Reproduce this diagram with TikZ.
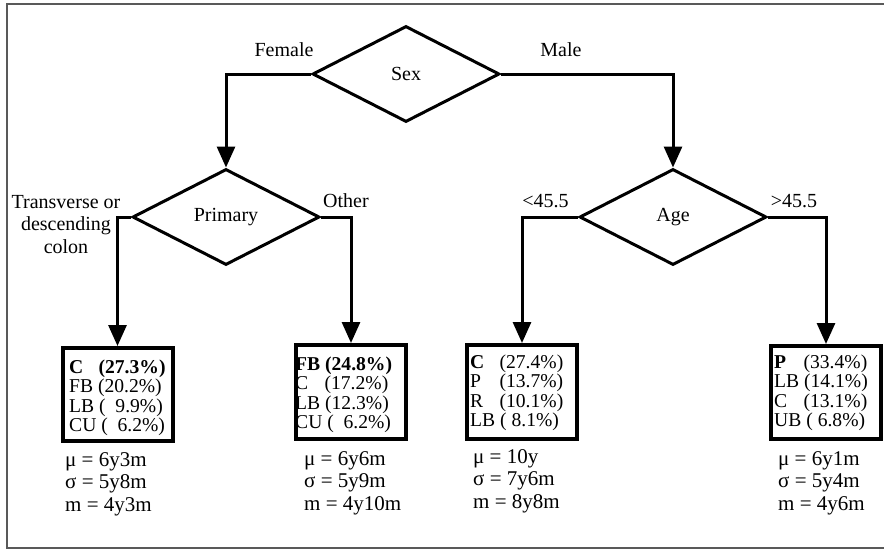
\documentclass[tikz,border=0pt]{standalone}
\usepackage{fontspec}
\setmainfont{Liberation Serif}
\usetikzlibrary{shapes.geometric,arrows.meta}
% fixed-width first column for single-letter class rows
\newcommand\tagcol[1]{\makebox[1.5em][l]{#1}}
\begin{document}
\begin{tikzpicture}[x=1pt,y=-1pt,
  decision/.style={diamond, draw, line width=3pt, minimum width=187pt,
    minimum height=96pt, inner sep=0pt, font=\fontsize{20}{22}\selectfont},
  leaf/.style={rectangle, draw, line width=4pt, inner sep=0pt,
    minimum width=110pt, minimum height=94pt},
  link/.style={line width=3pt, -{Triangle[length=21pt,width=18pt]}},
  lbl/.style={inner sep=0pt, anchor=base, font=\fontsize{20}{22.5}\selectfont},
  dist/.style={inner sep=0pt, anchor=base west, font=\fontsize{19.6}{19.6}\selectfont},
  stats/.style={inner sep=0pt, anchor=base west, font=\fontsize{21}{22.5}\selectfont},
  frame/.style={line width=1.5pt, draw=black!65},
]
\useasboundingbox (0,0) rectangle (884,552);
\fill[white] (0,0) rectangle (884,552);
\draw[frame] (884,4) -- (7,4) -- (7,548) -- (884,548);

% decision nodes
\node[decision] (sex) at (406,74) {Sex};
\node[decision] (primary) at (226,217) {Primary};
\node[decision] (age) at (673,217) {Age};

% leaf boxes
\node[leaf, minimum height=93pt] (leafA) at (117.5,394.5) {};
\node[leaf] (leafB) at (351,392) {};
\node[leaf] (leafC) at (522,392) {};
\node[leaf, minimum height=93pt] (leafD) at (826,392.5) {};

% connectors
\draw[link] (sex.west) -| (primary.north);
\draw[link] (sex.east) -| (age.north);
\draw[link] (primary.west) -| (leafA.north);
\draw[link] (primary.east) -| (leafB.north);
\draw[link] (age.west) -| (leafC.north);
\draw[link] (age.east) -| (leafD.north);

% branch labels
\node[lbl] (female) at (284,56) {Female};
\node[lbl] (male) at (561,56) {Male};
\node[lbl] (transverse) at (66,208) {\begin{tabular}[t]{@{}c@{}}Transverse or\\ descending\\ colon\end{tabular}};
\node[lbl] (other) at (346,207) {Other};
\node[lbl] (younger) at (545.5,207) {<45.5};
\node[lbl] (older) at (794,207) {>45.5};

% class distributions
\node[dist] (distA) at (69,373) {\begin{tabular}[t]{@{}l@{}}
  \textbf{\tagcol{C}(27.3\%)}\\
  FB (20.2\%)\\
  LB (\phantom{0}9.9\%)\\
  CU (\phantom{0}6.2\%)\end{tabular}};
\node[dist] (distB) at (295,370) {\begin{tabular}[t]{@{}l@{}}
  \textbf{FB (24.8\%)}\\
  \tagcol{C}(17.2\%)\\
  LB (12.3\%)\\
  CU (\phantom{0}6.2\%)\end{tabular}};
\node[dist] (distC) at (470,368) {\begin{tabular}[t]{@{}l@{}}
  \tagcol{\textbf{C}}(27.4\%)\\
  \tagcol{P}(13.7\%)\\
  \tagcol{R}(10.1\%)\\
  LB ( 8.1\%)\end{tabular}};
\node[dist] (distD) at (774,368) {\begin{tabular}[t]{@{}l@{}}
  \tagcol{\textbf{P}}(33.4\%)\\
  LB (14.1\%)\\
  \tagcol{C}(13.1\%)\\
  UB ( 6.8\%)\end{tabular}};

% age statistics
\node[stats] (statA) at (65,466) {\begin{tabular}[t]{@{}l@{}}μ = 6y3m\\ σ = 5y8m\\ m = 4y3m\end{tabular}};
\node[stats] (statB) at (304,465) {\begin{tabular}[t]{@{}l@{}}μ = 6y6m\\ σ = 5y9m\\ m = 4y10m\end{tabular}};
\node[stats] (statC) at (473,463) {\begin{tabular}[t]{@{}l@{}}μ = 10y\\ σ = 7y6m\\ m = 8y8m\end{tabular}};
\node[stats] (statD) at (778,465) {\begin{tabular}[t]{@{}l@{}}μ = 6y1m\\ σ = 5y4m\\ m = 4y6m\end{tabular}};
\end{tikzpicture}
\end{document}
